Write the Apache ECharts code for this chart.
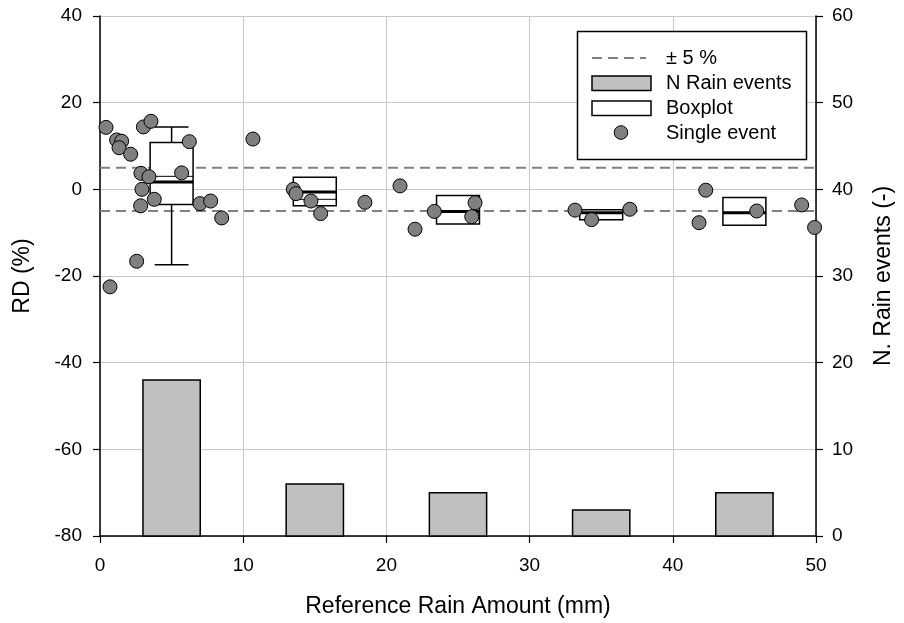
<!DOCTYPE html>
<html>
<head>
<meta charset="utf-8">
<script src="https://cdn.jsdelivr.net/npm/echarts@6/dist/echarts.min.js"></script>
<style>
html,body{margin:0;padding:0;background:#fff;}
#chart{width:904px;height:623px;}
</style>
</head>
<body>
<div id="chart"></div>
<script>
// ---- data ----
const binCenters = [5, 15, 25, 35, 45];
const nRainEvents = [18, 6, 5, 3, 5];
const binWidth = 4;

const boxCenters = [5, 15, 25, 35, 45];
const boxLow    = [-17.4, null, null, null, null];
const boxQ1     = [-3.5, -3.8, -8.0, -7.0, -8.3];
const boxMedian = [1.7, -0.6, -5.1, -5.4, -5.4];
const boxMean   = [3.0, -2.3, null, null, null];
const boxQ3     = [10.8, 2.8, -1.4, -4.7, -1.9];
const boxHigh   = [14.4, null, null, null, null];
const boxWidth = 3;

const eventX = [0.42, 3.03, 3.56, 1.16, 1.51, 1.33, 2.14, 6.24, 2.86, 3.42, 5.7, 2.93, 3.79, 2.84, 6.98, 7.73, 8.5, 2.56, 0.7,
                10.68, 13.5, 13.69, 14.73, 15.41, 18.5,
                20.95, 22.0, 23.35, 26.19, 25.96,
                33.17, 34.33, 37.0,
                42.3, 41.83, 45.86, 49.0, 49.9];
const eventY = [14.3, 14.4, 15.7, 11.4, 11.1, 9.6, 8.1, 11.0, 3.7, 2.9, 3.8, 0.0, -2.3, -3.8, -3.3, -2.7, -6.6, -16.6, -22.5,
                11.6, 0.0, -1.0, -2.7, -5.6, -3.0,
                0.8, -9.2, -5.1, -3.1, -6.3,
                -4.8, -7.0, -4.6,
                -0.2, -7.7, -5.0, -3.6, -8.8];

const limitLevels = [5, -5];
const xRange = [0, 50];

const xTitle = 'Reference Rain Amount (mm)';
const yLeftTitle = 'RD (%)';
const yRightTitle = 'N. Rain events (-)';
const legendLabels = ['± 5 %', 'N Rain events', 'Boxplot', 'Single event'];

// ---- chart ----
const FONT = '"Liberation Sans", Arial, sans-serif';
const chart = echarts.init(document.getElementById('chart'), null, {renderer: 'canvas'});

const barData = binCenters.map((c, i) => [c, nRainEvents[i]]);
const boxData = boxCenters.map((c, i) => [c, boxLow[i], boxQ1[i], boxMedian[i], boxMean[i], boxQ3[i], boxHigh[i]]);
const scatterData = eventX.map((x, i) => [x, eventY[i]]);

const axisCommon = {
  axisLine: {show: true, onZero: false, lineStyle: {color: '#000', width: 1.5}},
  axisTick: {show: true, inside: false, length: 7, lineStyle: {color: '#000', width: 1.2}},
  axisLabel: {color: '#000', fontSize: 19, fontFamily: FONT},
  splitLine: {show: true, lineStyle: {color: '#c8c8c8', width: 1}}
};

const limitSeries = limitLevels.map(v => ({
  type: 'line',
  xAxisIndex: 0, yAxisIndex: 0,
  data: [[xRange[0], v], [xRange[1], v]],
  symbol: 'none',
  silent: true,
  lineStyle: {color: '#808080', width: 2, type: [10, 6]},
  z: 3
}));

const option = {
  animation: false,
  backgroundColor: '#fff',
  grid: {left: 100, right: 88, top: 16, bottom: 87, containLabel: false},
  xAxis: Object.assign({}, axisCommon, {
    type: 'value', min: 0, max: 50, interval: 10,
    axisLabel: Object.assign({}, axisCommon.axisLabel, {margin: 20})
  }),
  yAxis: [
    Object.assign({}, axisCommon, {
      type: 'value', position: 'left', min: -80, max: 40, interval: 20,
      axisLabel: Object.assign({}, axisCommon.axisLabel, {margin: 18})
    }),
    Object.assign({}, axisCommon, {
      type: 'value', position: 'right', min: 0, max: 60, interval: 10,
      splitLine: {show: false},
      axisLabel: Object.assign({}, axisCommon.axisLabel, {margin: 16})
    })
  ],
  series: [
    {
      type: 'custom',
      name: 'N Rain events',
      xAxisIndex: 0, yAxisIndex: 1,
      data: barData,
      encode: {x: 0, y: 1},
      z: 2,
      renderItem: function (params, api) {
        const c = api.value(0), n = api.value(1);
        const p1 = api.coord([c - binWidth / 2, n]);
        const p2 = api.coord([c + binWidth / 2, 0]);
        return {
          type: 'rect',
          shape: {x: p1[0], y: p1[1], width: p2[0] - p1[0], height: p2[1] - p1[1]},
          style: {fill: '#c0c0c0', stroke: '#000', lineWidth: 1.5}
        };
      }
    },
    ...limitSeries,
    {
      type: 'custom',
      name: 'Boxplot',
      xAxisIndex: 0, yAxisIndex: 0,
      data: boxData,
      encode: {x: 0, y: [2, 5]},
      z: 4,
      renderItem: function (params, api) {
        const c = api.value(0);
        const low = api.value(1), q1 = api.value(2), med = api.value(3),
              mean = api.value(4), q3 = api.value(5), high = api.value(6);
        const half = boxWidth / 2;
        const tl = api.coord([c - half, q3]);
        const br = api.coord([c + half, q1]);
        const children = [];
        const stroke = '#000';
        const valid = v => v !== null && v !== undefined && !isNaN(v);
        const capHalf = 1.18;
        if (valid(high)) {
          const a = api.coord([c, q3]), b = api.coord([c, high]);
          const l = api.coord([c - capHalf, high]), r = api.coord([c + capHalf, high]);
          children.push({type: 'line', shape: {x1: a[0], y1: a[1], x2: b[0], y2: b[1]}, style: {stroke, lineWidth: 1.5}});
          children.push({type: 'line', shape: {x1: l[0], y1: l[1], x2: r[0], y2: r[1]}, style: {stroke, lineWidth: 1.5}});
        }
        if (valid(low)) {
          const a = api.coord([c, q1]), b = api.coord([c, low]);
          const l = api.coord([c - capHalf, low]), r = api.coord([c + capHalf, low]);
          children.push({type: 'line', shape: {x1: a[0], y1: a[1], x2: b[0], y2: b[1]}, style: {stroke, lineWidth: 1.5}});
          children.push({type: 'line', shape: {x1: l[0], y1: l[1], x2: r[0], y2: r[1]}, style: {stroke, lineWidth: 1.5}});
        }
        children.push({type: 'rect', shape: {x: tl[0], y: tl[1], width: br[0] - tl[0], height: br[1] - tl[1]},
          style: {fill: '#fff', stroke, lineWidth: 1.5}});
        if (valid(mean)) {
          const l = api.coord([c - half, mean]), r = api.coord([c + half, mean]);
          children.push({type: 'line', shape: {x1: l[0], y1: l[1], x2: r[0], y2: r[1]}, style: {stroke, lineWidth: 1}});
        }
        if (valid(med)) {
          const l = api.coord([c - half, med]), r = api.coord([c + half, med]);
          children.push({type: 'line', shape: {x1: l[0], y1: l[1], x2: r[0], y2: r[1]}, style: {stroke, lineWidth: 3}});
        }
        return {type: 'group', children};
      }
    },
    {
      type: 'scatter',
      name: 'Single event',
      xAxisIndex: 0, yAxisIndex: 0,
      data: scatterData,
      symbol: 'circle',
      symbolSize: 14,
      clip: false,
      itemStyle: {color: '#808080', borderColor: '#000', borderWidth: 1, opacity: 1},
      z: 6
    }
  ],
  graphic: [
    {type: 'text', x: 23, y: 276, rotation: Math.PI / 2, z: 10,
      style: {text: yLeftTitle, font: '23px ' + FONT, fill: '#000', textAlign: 'center', textVerticalAlign: 'middle'}},
    {type: 'text', x: 884, y: 276, rotation: Math.PI / 2, z: 10,
      style: {text: yRightTitle, font: '23px ' + FONT, fill: '#000', textAlign: 'center', textVerticalAlign: 'middle'}},
    {type: 'text', x: 458, y: 607, z: 10,
      style: {text: xTitle, font: '23px ' + FONT, fill: '#000', textAlign: 'center', textVerticalAlign: 'middle'}},
    // legend
    {type: 'rect', z: 20, shape: {x: 577.5, y: 31.5, width: 229, height: 128},
      style: {fill: '#fff', stroke: '#000', lineWidth: 1.5}},
    {type: 'line', z: 21, shape: {x1: 592, y1: 58, x2: 646, y2: 58},
      style: {stroke: '#808080', lineWidth: 2, lineDash: [10, 6]}},
    {type: 'rect', z: 21, shape: {x: 592, y: 76, width: 59, height: 14.5},
      style: {fill: '#c0c0c0', stroke: '#000', lineWidth: 1.5}},
    {type: 'rect', z: 21, shape: {x: 592, y: 101, width: 59, height: 14.5},
      style: {fill: '#fff', stroke: '#000', lineWidth: 1.5}},
    {type: 'circle', z: 21, shape: {cx: 621, cy: 132.5, r: 6.8},
      style: {fill: '#808080', stroke: '#000', lineWidth: 1}},
    {type: 'text', z: 21, x: 666, y: 58, style: {text: legendLabels[0], font: '20px ' + FONT, fill: '#000', textVerticalAlign: 'middle'}},
    {type: 'text', z: 21, x: 666, y: 83, style: {text: legendLabels[1], font: '20px ' + FONT, fill: '#000', textVerticalAlign: 'middle'}},
    {type: 'text', z: 21, x: 666, y: 108, style: {text: legendLabels[2], font: '20px ' + FONT, fill: '#000', textVerticalAlign: 'middle'}},
    {type: 'text', z: 21, x: 666, y: 133, style: {text: legendLabels[3], font: '20px ' + FONT, fill: '#000', textVerticalAlign: 'middle'}}
  ]
};
chart.setOption(option);
</script>
</body>
</html>
